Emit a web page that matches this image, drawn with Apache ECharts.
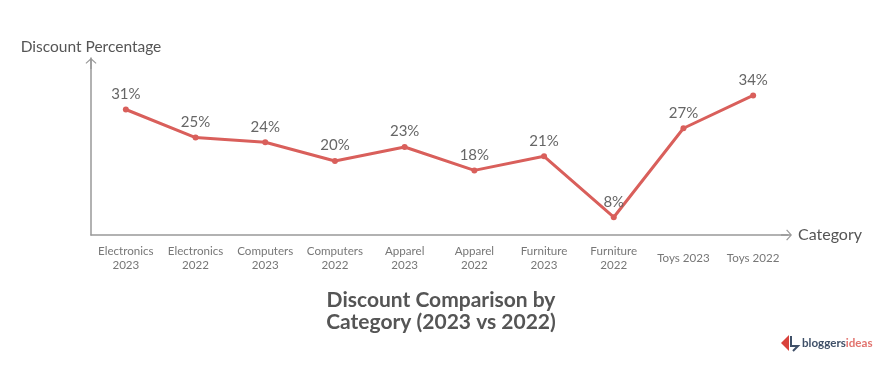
<!DOCTYPE html>
<html>
<head>
<meta charset="utf-8">
<style>
  html, body { margin: 0; padding: 0; background: #fff; }
  #chart { width: 884px; height: 366px; }
</style>
<script src="https://cdn.jsdelivr.net/npm/echarts@6/dist/echarts.min.js"></script>
</head>
<body>
<div id="chart"></div>
<script>
const categories = [
  'Electronics\n2023', 'Electronics\n2022', 'Computers\n2023', 'Computers\n2022', 'Apparel\n2023',
  'Apparel\n2022', 'Furniture\n2023', 'Furniture\n2022', 'Toys 2023', 'Toys 2022'
]
const discounts = [31, 25, 24, 20, 23, 18, 21, 8, 27, 34]

const font = 'Lato'
// open arrow head with a bit of stem, pointing up (the axis rotates it)
const arrow = 'path://M10 0 L20 9 L18.6 10.6 L11.3 4 L11.3 20 L8.7 20 L8.7 4 L1.4 10.6 L0 9 Z'

const chart = echarts.init(document.getElementById('chart'))
chart.setOption({
  animation: false,
  backgroundColor: '#fff',
  title: {
    text: 'Discount Comparison by\nCategory (2023 vs 2022)',
    left: 436,
    top: 284,
    textAlign: 'center',
    textStyle: {
      fontFamily: font,
      fontWeight: 'bold',
      fontSize: 21,
      lineHeight: 22,
      color: '#555'
    }
  },
  grid: { left: 91, right: 96, top: 58, bottom: 131 },
  xAxis: {
    type: 'category',
    data: categories,
    name: 'Category',
    nameGap: 10,
    nameTextStyle: { fontFamily: font, fontSize: 16, color: '#555' },
    axisLine: {
      symbol: ['none', arrow],
      symbolSize: [11, 11],
      symbolOffset: [0, -1.5],
      lineStyle: { color: '#999', width: 1.5 }
    },
    axisTick: { show: false },
    axisLabel: {
      interval: 0,
      margin: 23,
      verticalAlign: 'middle',
      fontFamily: font,
      fontSize: 11.6,
      lineHeight: 14,
      color: '#777'
    }
  },
  yAxis: {
    type: 'value',
    min: 4.2,
    max: 42,
    name: 'Discount Percentage',
    nameGap: 3,
    nameTextStyle: { fontFamily: font, fontSize: 15.5, color: '#555', align: 'center' },
    axisLine: {
      show: true,
      symbol: ['none', arrow],
      symbolSize: [11, 11],
      symbolOffset: [0, -5.5],
      lineStyle: { color: '#999', width: 1.5 }
    },
    axisTick: { show: false },
    axisLabel: { show: false },
    splitLine: { show: false }
  },
  series: [{
    type: 'line',
    data: discounts,
    symbol: 'circle',
    symbolSize: 6,
    lineStyle: { color: '#d95f5b', width: 3 },
    itemStyle: { color: '#d95f5b' },
    label: {
      show: true,
      position: 'top',
      distance: 5,
      formatter: '{c}%',
      fontFamily: font,
      fontSize: 15,
      color: '#666'
    }
  }],
  graphic: [
    { type: 'polygon', shape: { points: [[781, 343], [789, 335], [789, 351]] }, style: { fill: '#d9423c' } },
    { type: 'polyline', shape: { points: [[791, 336], [791, 346], [798, 346], [793, 351]] }, style: { fill: 'none', stroke: '#3f5068', lineWidth: 2 } },
    {
      type: 'text',
      left: 802,
      top: 337,
      style: {
        rich: {
          a: { fontFamily: font, fontSize: 11.6, fontWeight: 'bold', fill: '#3f5068' },
          b: { fontFamily: font, fontSize: 11.6, fontWeight: 'bold', fill: '#e2736e' }
        },
        text: '{a|bloggers}{b|ideas}'
      }
    }
  ]
})
</script>
</body>
</html>
